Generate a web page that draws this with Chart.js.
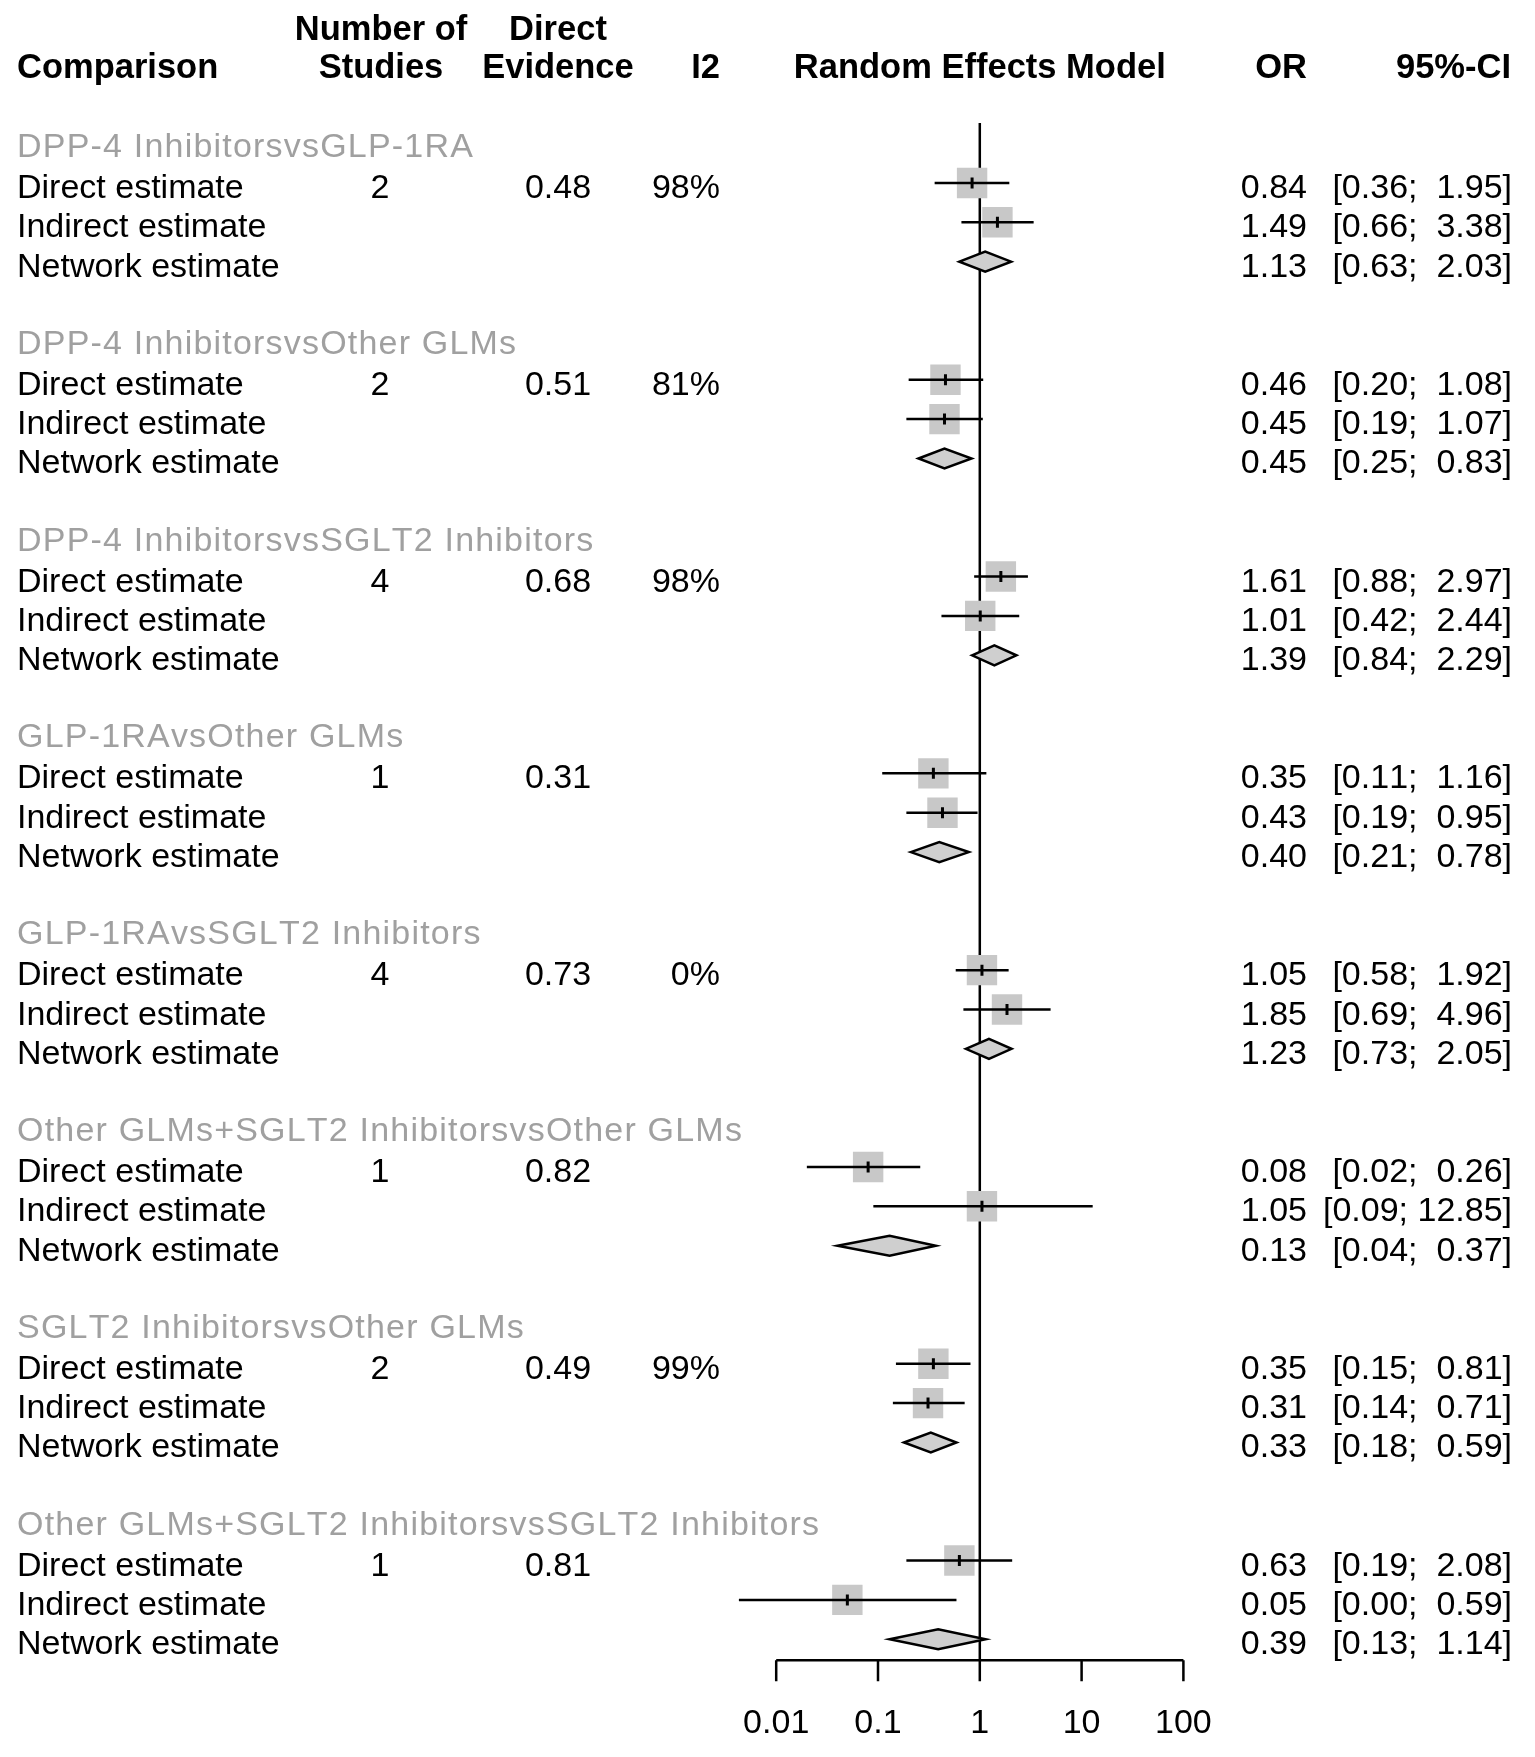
<!DOCTYPE html>
<html>
<head>
<meta charset="utf-8">
<script src="https://cdn.jsdelivr.net/npm/chart.js@4.4.1/dist/chart.umd.min.js"></script>
<style>
  html, body { margin: 0; padding: 0; background: #fff; }
  canvas { display: block; }
</style>
</head>
<body>
<canvas id="forest" width="1535" height="1757"></canvas>
<script>
// comparisons, top to bottom
const groups = [
  'DPP-4 InhibitorsvsGLP-1RA',
  'DPP-4 InhibitorsvsOther GLMs',
  'DPP-4 InhibitorsvsSGLT2 Inhibitors',
  'GLP-1RAvsOther GLMs',
  'GLP-1RAvsSGLT2 Inhibitors',
  'Other GLMs+SGLT2 InhibitorsvsOther GLMs',
  'SGLT2 InhibitorsvsOther GLMs',
  'Other GLMs+SGLT2 InhibitorsvsSGLT2 Inhibitors'
];
const rowLabels = ['Direct estimate', 'Indirect estimate', 'Network estimate'];

const nStudies = [2, 2, 4, 1, 4, 1, 2, 1];
const directEvidence = [0.48, 0.51, 0.68, 0.31, 0.73, 0.82, 0.49, 0.81];
const i2 = ['98%', '81%', '98%', '', '0%', '', '99%', ''];

const directOR = [0.84, 0.46, 1.61, 0.35, 1.05, 0.08, 0.35, 0.63];
const directLo = [0.36, 0.20, 0.88, 0.11, 0.58, 0.02, 0.15, 0.19];
const directHi = [1.95, 1.08, 2.97, 1.16, 1.92, 0.26, 0.81, 2.08];

const indirectOR = [1.49, 0.45, 1.01, 0.43, 1.85, 1.05, 0.31, 0.05];
const indirectLo = [0.66, 0.19, 0.42, 0.19, 0.69, 0.09, 0.14, 0.0043];
const indirectHi = [3.38, 1.07, 2.44, 0.95, 4.96, 12.85, 0.71, 0.59];

const networkOR = [1.13, 0.45, 1.39, 0.40, 1.23, 0.13, 0.33, 0.39];
const networkLo = [0.63, 0.25, 0.84, 0.21, 0.73, 0.04, 0.18, 0.13];
const networkHi = [2.03, 0.83, 2.29, 0.78, 2.05, 0.37, 0.59, 1.14];

const xTicks = [0.01, 0.1, 1, 10, 100];

// row index helpers: group header at 2+5g, estimates below it
const headRow = g => 2 + 5 * g;
const estRow = (g, k) => 3 + 5 * g + k;

const FONT = '"Liberation Sans", Arial, sans-serif';
const AXIS_ROW = 40.53;
const REF_TOP_ROW = 1.48;

const whiskers = [];
const squares = [];
groups.forEach((name, g) => {
  [[directOR, directLo, directHi], [indirectOR, indirectLo, indirectHi]].forEach((s, k) => {
    const r = estRow(g, k);
    whiskers.push({ x: s[1][g], y: r }, { x: s[2][g], y: r }, { x: null, y: null });
    squares.push({ x: s[0][g], y: r });
  });
});

const fmt = v => v.toFixed(2);
const ciText = (lo, hi) => {
  const h = fmt(hi);
  return '[' + fmt(lo) + '; ' + (h.length < 5 ? ' ' : '') + h + ']';
};

const forestPlugin = {
  id: 'forest',
  beforeDatasetsDraw(chart) {
    const { ctx, scales: { x, y } } = chart;
    ctx.save();
    ctx.strokeStyle = '#000';
    ctx.lineWidth = 2.5;
    ctx.beginPath();
    ctx.moveTo(x.getPixelForValue(1), y.getPixelForValue(REF_TOP_ROW));
    ctx.lineTo(x.getPixelForValue(1), y.getPixelForValue(AXIS_ROW));
    ctx.stroke();
    ctx.restore();
  },
  afterDatasetsDraw(chart) {
    const { ctx, scales: { x, y } } = chart;
    ctx.save();
    // network estimate diamonds
    groups.forEach((name, g) => {
      const yc = y.getPixelForValue(estRow(g, 2));
      const xl = x.getPixelForValue(networkLo[g]);
      const xm = x.getPixelForValue(networkOR[g]);
      const xr = x.getPixelForValue(networkHi[g]);
      ctx.beginPath();
      ctx.moveTo(xl, yc);
      ctx.lineTo(xm, yc - 10);
      ctx.lineTo(xr, yc);
      ctx.lineTo(xm, yc + 10);
      ctx.closePath();
      ctx.fillStyle = '#cfcfcf';
      ctx.fill();
      ctx.strokeStyle = '#000';
      ctx.lineWidth = 2.5;
      ctx.stroke();
    });
    ctx.restore();
  },
  afterDraw(chart) {
    const { ctx, scales: { x, y } } = chart;
    const base = r => y.getPixelForValue(r);
    ctx.save();
    ctx.fontKerning = 'none';

    // x axis
    const ya = base(AXIS_ROW);
    ctx.strokeStyle = '#000';
    ctx.lineWidth = 2.5;
    ctx.beginPath();
    ctx.moveTo(x.getPixelForValue(xTicks[0]), ya);
    ctx.lineTo(x.getPixelForValue(xTicks[xTicks.length - 1]), ya);
    xTicks.forEach(t => {
      ctx.moveTo(x.getPixelForValue(t), ya);
      ctx.lineTo(x.getPixelForValue(t), ya + 21);
    });
    ctx.stroke();
    ctx.fillStyle = '#000';
    ctx.font = '34px ' + FONT;
    ctx.textAlign = 'center';
    ctx.textBaseline = 'alphabetic';
    xTicks.forEach(t => ctx.fillText(String(t), x.getPixelForValue(t), ya + 73));

    // column headers
    ctx.font = 'bold 34.5px ' + FONT;
    const h1 = base(-1) + 14, h0 = base(0) + 13.5;
    ctx.textAlign = 'left';
    ctx.fillText('Comparison', 17, h0);
    ctx.textAlign = 'center';
    ctx.fillText('Number of', 381, h1);
    ctx.fillText('Studies', 381, h0);
    ctx.fillText('Direct', 558, h1);
    ctx.fillText('Evidence', 558, h0);
    ctx.fillText('Random Effects Model', x.getPixelForValue(1), h0);
    ctx.textAlign = 'right';
    ctx.fillText('I2', 720, h0);
    ctx.fillText('OR', 1307, h0);
    ctx.fillText('95%-CI', 1511, h0);

    // rows
    const ors = [directOR, indirectOR, networkOR];
    const los = [directLo, indirectLo, networkLo];
    const his = [directHi, indirectHi, networkHi];
    groups.forEach((name, g) => {
      ctx.font = '34px ' + FONT;
      ctx.letterSpacing = '1.2px';
      ctx.fillStyle = '#a0a0a0';
      ctx.textAlign = 'left';
      ctx.fillText(name, 17, base(headRow(g)) + 13.5);
      ctx.letterSpacing = '0px';

      ctx.fillStyle = '#000';
      rowLabels.forEach((lab, k) => {
        const b = base(estRow(g, k)) + 15;
        ctx.textAlign = 'left';
        ctx.fillText(lab, 17, b);
        if (k === 0) {
          ctx.textAlign = 'center';
          ctx.fillText(String(nStudies[g]), 380, b);
          ctx.fillText(fmt(directEvidence[g]), 558, b);
          ctx.textAlign = 'right';
          ctx.fillText(i2[g], 720, b);
        }
        ctx.textAlign = 'right';
        ctx.fillText(fmt(ors[k][g]), 1307, b);
        ctx.fillText(ciText(los[k][g], his[k][g]), 1512, b);
      });
    });
    ctx.restore();
  }
};

new Chart(document.getElementById('forest'), {
  type: 'scatter',
  data: {
    datasets: [
      {
        data: squares,
        order: 1,
        pointStyle: 'line',
        rotation: 90,
        pointRadius: 5.5,
        borderColor: '#000',
        borderWidth: 3
      },
      {
        data: whiskers,
        order: 2,
        showLine: true,
        spanGaps: false,
        pointRadius: 0,
        borderColor: '#000',
        borderWidth: 2.5
      },
      {
        data: squares,
        order: 3,
        pointStyle: 'rect',
        pointRadius: 21.5,
        backgroundColor: '#c8c8c8',
        borderWidth: 0
      }
    ]
  },
  options: {
    responsive: false,
    animation: false,
    events: [],
    layout: {
      padding: { left: 674.4, right: 249.8, top: 25.5, bottom: 39 }
    },
    scales: {
      x: { type: 'logarithmic', min: 0.001, max: 1000, display: false },
      y: { type: 'linear', min: -1, max: 42, reverse: true, display: false }
    },
    plugins: {
      legend: { display: false },
      tooltip: { enabled: false }
    }
  },
  plugins: [forestPlugin]
});
</script>
</body>
</html>
